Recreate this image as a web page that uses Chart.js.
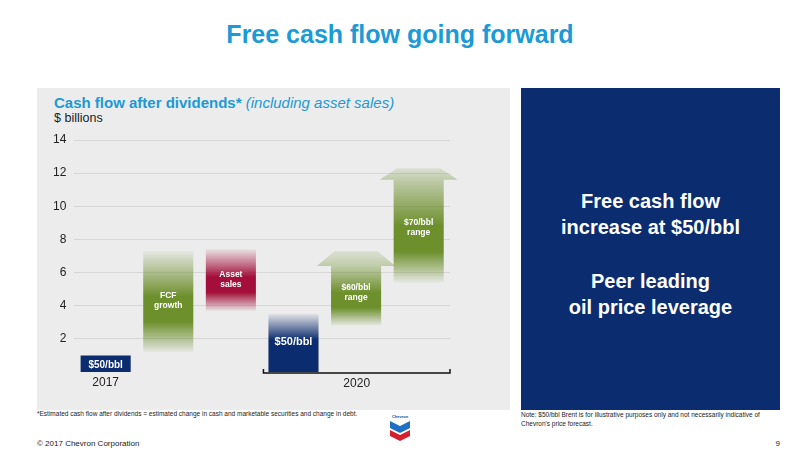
<!DOCTYPE html>
<html><head><meta charset="utf-8">
<script src="https://cdn.jsdelivr.net/npm/chart.js@4"></script>
<style>
body{margin:0;width:800px;height:450px;background:#fff;font-family:"Liberation Sans",Arial,sans-serif;position:relative;overflow:hidden}
.abs{position:absolute}
#title{left:0;width:800px;top:20px;text-align:center;color:#1b9ad6;font-weight:bold;font-size:25px}
#gray{left:37px;top:88px;width:473px;height:322px;background:#ececec}
#navy{left:521px;top:88px;width:259px;height:322px;background:#0b2c6f;color:#fff;font-weight:bold;font-size:20px;text-align:center}
#sub{left:54px;top:94px;color:#1b9ad6;font-size:15px;font-weight:bold}
#sub i{font-weight:normal}
#unit{left:54px;top:111px;font-size:12.5px;color:#222}
#wrap{left:37px;top:115px;width:473px;height:283px}
.note{font-size:6.5px;color:#222}
</style></head><body>
<div class="abs" id="title">Free cash flow going forward</div>
<div class="abs" id="gray"></div>
<div class="abs" id="navy"><div style="margin-top:100px;line-height:26px">Free cash flow<br>increase at $50/bbl</div><div style="margin-top:28px;line-height:26px">Peer leading<br>oil price leverage</div></div>
<div class="abs" id="sub">Cash flow after dividends* <i>(including asset sales)</i></div>
<div class="abs" id="unit">$ billions</div>
<div class="abs" id="wrap"><canvas id="c"></canvas></div>
<div class="abs note" style="left:37px;top:410px">*Estimated cash flow after dividends = estimated change in cash and marketable securities and change in debt.</div>
<div class="abs note" style="left:521px;top:410px;line-height:9px">Note: $50/bbl Brent is for illustrative purposes only and not necessarily indicative of<br>Chevron's price forecast.</div>
<div class="abs" style="left:387px;top:414px;width:26px;text-align:center">
<div style="font-size:4px;color:#0b4da2;font-weight:bold">Chevron</div>
<svg width="22" height="22" viewBox="0 0 22 22"><path d="M1 2 L11 7 L21 2 L21 9 L11 14 L1 9Z" fill="#1f6fc4"/><path d="M1 11 L11 16 L21 11 L21 17 L11 22 L1 17Z" fill="#d5202e"/></svg></div>
<div class="abs" style="left:37px;top:439px;font-size:8px;color:#222">© 2017 Chevron Corporation</div>
<div class="abs" style="left:760px;top:439px;font-size:8px;color:#222;width:20px;text-align:right">9</div>
<script>
const categories = ['$50/bbl 2017', 'FCF growth', 'Asset sales', '$50/bbl 2020', '$60/bbl range', '$70/bbl range'];
const barLow  = [0, 1.2, 3.7, 0, 2.8, 5.4];
const barHigh = [1.0, 7.3, 7.4, 3.5, 6.4, 11.6];
const arrowTop = [null, null, null, null, 7.3, 12.3];
const barLabels = [['$50/bbl'], ['FCF', 'growth'], ['Asset', 'sales'], ['$50/bbl'], ['$60/bbl', 'range'], ['$70/bbl', 'range']];
const labelAt = [0.4, 4.3, 5.6, 1.8, 4.8, 8.7];
const yTicks = [2, 4, 6, 8, 10, 12, 14];

const colors = ['#0b2c6f', '#6d8f2c', '#a30f3a', '#0b2c6f', '#6d8f2c', '#6d8f2c'];
const fadeTop = [false, true, true, true, true, true];
const fadeBottom = [false, true, true, false, true, true];

function rgba(hex, a) {
  const n = parseInt(hex.slice(1), 16);
  return `rgba(${n >> 16},${(n >> 8) & 255},${n & 255},${a})`;
}
function grad(ctx, i, y0, y1) {
  const g = ctx.createLinearGradient(0, y1, 0, y0);
  const c = colors[i];
  g.addColorStop(0, rgba(c, fadeTop[i] ? (arrowTop[i] != null ? 0.35 : 0.05) : 1));
  g.addColorStop(0.45, rgba(c, 1));
  g.addColorStop(0.7, rgba(c, 1));
  g.addColorStop(1, rgba(c, fadeBottom[i] ? 0.05 : 1));
  return g;
}

const extras = {
  id: 'extras',
  afterDatasetsDraw(chart) {
    const ctx = chart.ctx, x = chart.scales.x, y = chart.scales.y;
    const meta = chart.getDatasetMeta(0);
    ctx.save();
    meta.data.forEach((bar, i) => {
      if (arrowTop[i] != null) {
        const hw = bar.width * 0.78, yb = y.getPixelForValue(barHigh[i]), yt = y.getPixelForValue(arrowTop[i]);
        const g = ctx.createLinearGradient(0, yt, 0, yb);
        g.addColorStop(0, rgba(colors[i], 0.12));
        g.addColorStop(1, rgba(colors[i], 0.35));
        ctx.fillStyle = g;
        ctx.beginPath();
        ctx.moveTo(bar.x - hw, yb); ctx.lineTo(bar.x - hw * 0.55, yt); ctx.lineTo(bar.x + hw * 0.55, yt); ctx.lineTo(bar.x + hw, yb); ctx.closePath();
        ctx.fill();
      }
      ctx.fillStyle = '#fff';
      ctx.font = 'bold ' + (i === 0 ? 10 : i === 3 ? 11 : 8.5) + 'px "Liberation Sans", Arial';
      ctx.textAlign = 'center'; ctx.textBaseline = 'middle';
      const lines = barLabels[i], yc = y.getPixelForValue(labelAt[i]), lh = 10;
      lines.forEach((t, k) => ctx.fillText(t, bar.x, yc + (k - (lines.length - 1) / 2) * lh));
    });
    const yb = y.getPixelForValue(0);
    ctx.fillStyle = '#222'; ctx.font = '12px "Liberation Sans", Arial';
    ctx.fillText('2017', meta.data[0].x, yb + 11);
    const l = meta.data[3].x - meta.data[3].width / 2 - 5, r = x.right;
    ctx.fillText('2020', (l + r) / 2, yb + 12);
    ctx.strokeStyle = '#111'; ctx.lineWidth = 1.5;
    ctx.beginPath(); ctx.moveTo(l, yb - 3); ctx.lineTo(l, yb + 1); ctx.lineTo(r, yb + 1); ctx.lineTo(r, yb - 3); ctx.stroke();
    ctx.restore();
  }
};

new Chart(document.getElementById('c'), {
  type: 'bar',
  data: {
    labels: categories,
    datasets: [{
      data: barLow.map((v, i) => [v, barHigh[i]]),
      backgroundColor: c => {
        const a = c.chart.chartArea;
        if (!a) return colors[c.dataIndex];
        const y = c.chart.scales.y, i = c.dataIndex;
        return grad(c.chart.ctx, i, y.getPixelForValue(barLow[i]), y.getPixelForValue(barHigh[i]));
      },
      barPercentage: 0.8, categoryPercentage: 1
    }]
  },
  options: {
    responsive: true, maintainAspectRatio: false, animation: false,
    layout: { padding: { left: 8, right: 60, top: 25, bottom: 26 } },
    plugins: { legend: { display: false }, tooltip: { enabled: false } },
    scales: {
      x: { display: false },
      y: {
        min: 0, max: 14,
        afterBuildTicks: s => { s.ticks = yTicks.map(v => ({ value: v })); },
        border: { display: false },
        grid: { color: '#d6d6d6', drawTicks: false },
        ticks: { color: '#222', font: { size: 12, family: 'Liberation Sans' }, padding: 8 }
      }
    }
  },
  plugins: [extras]
});
</script>
</body></html>
